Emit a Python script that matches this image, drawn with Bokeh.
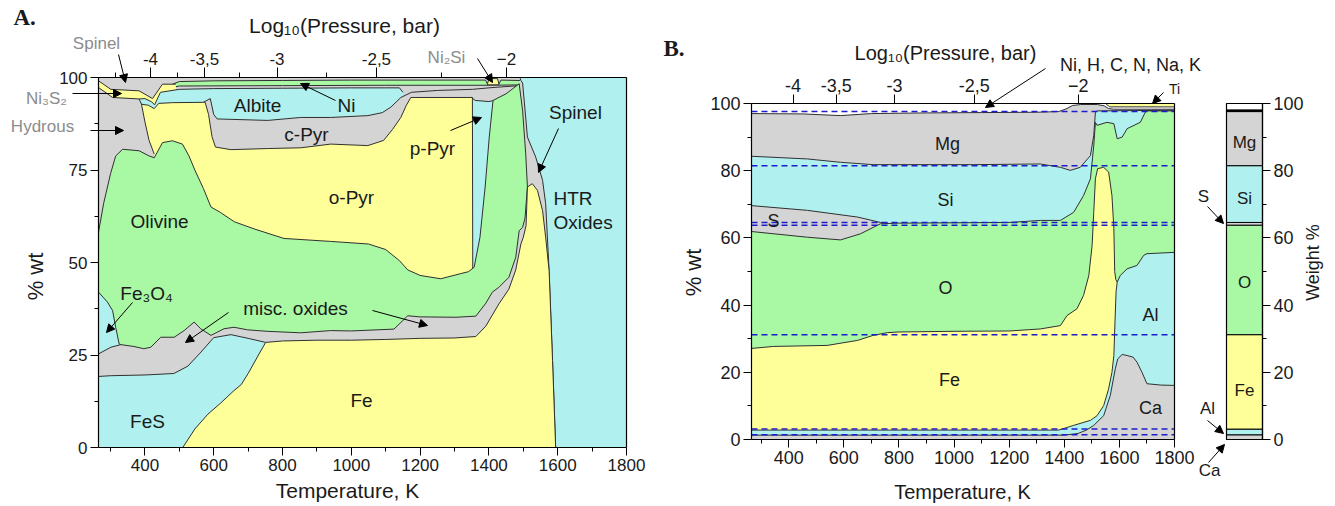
import math
from bokeh.plotting import figure
from bokeh.models import (Range1d, LinearAxis, FixedTicker, Label, Arrow, NormalHead)
from bokeh.layouts import row
from bokeh.embed import file_html
from bokeh.resources import INLINE

# ---------------- colours ----------------
YEL = "#FFFF99"
CYA = "#B0F0EE"
GRN = "#A8F8A4"
GRY = "#D4D4D4"
EDGE = "#303030"
FONT = "Liberation Sans"

# ---------------- Panel A data (cumulative tops, % wt) ----------------
htr_T = [1487, 1800]
htr_top = [100, 100]
spinel_T = [265, 1490, 1493, 1498, 1512, 1536, 1556, 1565, 1575, 1585, 1594]
spinel_top = [100, 100, 99.2, 98.5, 83.9, 78.5, 72.2, 65.9, 47.8, 23.5, 0]
ni2si_T = [1395, 1400, 1425, 1430]
ni2si_top = [98.0, 99.7, 99.7, 98.0]
topgrn_T = [480, 500, 600, 800, 1000, 1200, 1390, 1397, 1428, 1435, 1490]
topgrn_top = [98.2, 98.9, 99.1, 99.2, 99.3, 99.3, 99.3, 98.0, 98.0, 99.3, 99.2]
ni_T = [440, 500, 800, 1100, 1400, 1488]
ni_top = [96.5, 97.7, 97.8, 97.9, 97.9, 98.0]
ni3s2_T = [265, 301, 383, 422, 451, 490]
ni3s2_top = [99.1, 96.8, 96.4, 94.3, 98.2, 98.2]
albite_T = [383, 400, 420, 428, 445, 500, 600, 800, 1000, 1100, 1140, 1150]
albite_top = [94.2, 94.3, 93.4, 92.6, 96.0, 96.8, 97.0, 97.1, 97.2, 97.2, 97.2, 96.0]
cpyr_T = [570, 590, 600, 610, 757, 853, 940, 1048, 1090, 1115, 1144, 1175, 1250, 1352, 1412, 1488]
cpyr_top = [93.3, 94.3, 90.0, 88.8, 88.4, 89.2, 89.2, 89.7, 90.5, 92.0, 94.6, 96.0, 96.5, 96.8, 97.3, 97.8]
ppyr_T = [1350, 1360, 1400, 1415]
ppyr_top = [94.6, 93.8, 93.5, 93.8]
opyr_T = [388, 410, 427, 440, 480, 575, 585, 595, 605, 650, 757, 853, 940, 1048, 1094, 1120,
          1144, 1160, 1173, 1352, 1353]
opyr_top = [92.8, 92.5, 91.6, 93.0, 93.2, 93.3, 90.0, 84.0, 81.2, 80.5, 80.8, 81.0, 82.0, 81.6,
            83.0, 86.0, 89.2, 92.5, 94.6, 94.6, 48.5]
hydrous_T = [265, 306, 383, 390, 400, 412, 427]
hydrous_top = [97.3, 94.6, 94.2, 92.8, 88.0, 83.0, 79.3]
olivine_T = [265, 280, 300, 315, 335, 383, 412, 427, 451, 480, 509, 528, 545, 570, 592, 620, 660,
             720, 804, 940, 1050, 1100, 1140, 1164, 1200, 1260, 1318, 1340, 1357, 1374, 1389,
             1401, 1412, 1450, 1488, 1498, 1507, 1512]
olivine_top = [58.2, 66.0, 74.0, 78.8, 80.6, 80.2, 78.8, 78.3, 82.4, 82.9, 82.0, 78.8, 75.0, 70.0,
               65.0, 63.5, 61.0, 59.0, 56.5, 55.7, 55.0, 53.5, 50.5, 48.0, 46.5, 45.6, 47.0, 47.5,
               48.7, 56.8, 70.4, 83.9, 93.8, 95.6, 98.3, 91.0, 79.4, 70.4]
fe3o4_T = [265, 291, 306, 315, 325, 330]
fe3o4_top = [42.0, 39.3, 37.0, 32.5, 28.0, 27.8]
misc_T = [265, 301, 330, 368, 397, 417, 446, 485, 514, 543, 562, 592, 630, 659, 698, 756, 853,
          940, 1000, 1124, 1164, 1200, 1304, 1362, 1391, 1410, 1429, 1458, 1478, 1488, 1498,
          1505, 1512]
misc_top = [25.3, 27.1, 27.8, 27.3, 26.7, 27.1, 29.8, 29.8, 31.6, 33.9, 32.1, 30.3, 32.1, 32.5,
            31.8, 31.4, 31.0, 31.6, 31.5, 32.0, 35.6, 35.3, 35.2, 35.5, 39.0, 42.0, 43.3, 46.0,
            51.4, 58.6, 59.5, 62.0, 70.4]
fes_T = [265, 300, 400, 484, 525, 563, 600, 650, 700, 751]
fes_top = [19.2, 19.4, 19.6, 20.0, 22.0, 25.8, 29.7, 30.5, 29.5, 28.4]
feA_T = [510, 545, 583, 620, 659, 680, 700, 730, 751, 800, 900, 1000, 1100, 1200, 1300, 1362,
         1391, 1410, 1429, 1458, 1478, 1493, 1500, 1508, 1512, 1526, 1541, 1556, 1565, 1575,
         1585, 1594]
feA_top = [0, 5, 9, 12, 15.4, 17, 20, 25, 28.4, 28.8, 29.0, 29.0, 29.2, 29.5, 29.6, 30.0, 32.8,
           35.8, 38.8, 42.8, 48.0, 55.0, 56.8, 60.0, 70.4, 71.3, 69.5, 64.0, 56.8, 47.8, 23.5, 0]

# ---------------- Panel B data (cumulative tops, % wt) ----------------
ti_T = [1550, 1800]
ti_top = [100, 100]
oth_T = [265, 1550, 1565, 1800]
oth_top = [100, 100, 99.0, 99.0]
mg_T = [265, 450, 588, 700, 900, 1100, 1300, 1380, 1410, 1430, 1460, 1520, 1545, 1560, 1580, 1800]
mg_top = [97.0, 96.9, 96.4, 97.0, 97.2, 97.3, 97.4, 97.6, 98.5, 99.4, 99.7, 99.7, 99.3, 98.5, 98.3, 98.3]
si_T = [265, 468, 588, 707, 1070, 1313, 1386, 1422, 1458, 1495, 1507, 1513, 1519, 1800]
si_top = [84.3, 83.5, 82.5, 81.8, 81.8, 82.0, 81.0, 80.1, 81.0, 84.5, 90.5, 97.4, 97.8, 98.0]
s_T = [265, 468, 650, 733, 760]
s_top = [69.6, 68.2, 66.2, 64.6, 64.4]
o_T = [265, 468, 588, 660, 733, 800, 1000, 1200, 1313, 1386, 1434, 1470, 1495, 1507, 1513, 1519,
       1555, 1580, 1592, 1610, 1628, 1676, 1694, 1700, 1800]
o_top = [61.9, 60.2, 59.4, 61.2, 64.2, 64.4, 64.5, 64.6, 65.2, 65.2, 67.6, 72.6, 77.6, 87.5, 94.4,
         93.5, 94.4, 94.0, 89.5, 90.0, 92.5, 94.4, 97.4, 97.8, 97.8]
feB_T = [265, 345, 540, 650, 707, 758, 800, 1000, 1200, 1313, 1386, 1410, 1446, 1470, 1489, 1501,
         1507, 1513, 1521, 1543, 1561, 1573, 1580, 1583, 1587, 1592]
feB_top = [27.1, 27.7, 28.0, 29.5, 31.0, 31.8, 32.0, 32.2, 32.3, 32.9, 33.9, 36.9, 38.9, 42.9, 48.8,
           57.7, 67.6, 77.6, 80.6, 81.0, 79.6, 72.6, 62.7, 50.0, 47.6, 46.8]
al_T = [265, 1380, 1434, 1495, 1519, 1543, 1561, 1573, 1580, 1584, 1588, 1592, 1603, 1628, 1664,
        1688, 1700, 1800]
al_top = [2.8, 2.8, 4.2, 5.7, 7.1, 10.1, 15.1, 20.0, 25.0, 35.0, 44.0, 46.8, 48.8, 50.8, 51.8,
          54.8, 55.3, 55.7]
ca_T = [265, 1400, 1450, 1480, 1507, 1543, 1567, 1585, 1594, 1610, 1628, 1650, 1664, 1682, 1700,
        1750, 1800]
ca_top = [1.3, 1.3, 1.8, 2.8, 4.2, 7.1, 13.1, 21.0, 24.0, 25.3, 25.0, 24.5, 23.0, 20.0, 16.6,
          16.2, 16.1]

# reference (bulk) composition: cumulative tops
bulk_names = ["Ca", "Al", "Fe", "O", "S", "Si", "Mg"]
bulk_cum = [1.4, 3.1, 31.2, 63.8, 64.6, 81.5, 97.6]
bulk_other_top = 98.1

# pressure axis (log10 P, bar) ticks at temperature positions
p_labels = ["-4", "-3,5", "-3", "-2,5", "\u22122"]
p_T = [416, 573, 784, 1073, 1451]
p_minor_T = [314, 495, 675, 928, 1262]

T_ticks = [400, 600, 800, 1000, 1200, 1400, 1600, 1800]
T_minor = [300, 500, 700, 900, 1100, 1300, 1500, 1700]

XR = (265, 1800)
YR = (0, 100)

# ---------------- page layout (pixels of the 1335x506 page) ----------------
OFF = 0            # measured page offset
A_W, BC_W, H = 650, 680, 505


def ax_(px):
    return XR[0] + (px - 98) * (XR[1] - XR[0]) / 528.0


def ay_(py):
    return (447 - py) / 3.7


def bx_(px):
    return XR[0] + (px - 751) * (XR[1] - XR[0]) / 423.0


def by_(py):
    return (439 - py) / 3.36


def style_axis(a, fs, tick=8, minor=4):
    a.axis_line_color = "black"
    a.axis_line_width = 1.2
    a.major_tick_line_color = "black"
    a.minor_tick_line_color = "black"
    a.major_tick_out = tick
    a.major_tick_in = 0
    a.minor_tick_out = minor
    a.minor_tick_in = 0
    a.major_label_text_font = FONT
    a.major_label_text_font_size = fs
    a.major_label_text_color = "#1a1a1a"
    a.major_label_standoff = 3


def add_axis(p, side, loc, bounds, ticks, minor, fs, tick=8, mtick=4, overrides=None):
    kw = {}
    if overrides:
        kw["major_label_overrides"] = overrides
    a = LinearAxis(fixed_location=loc, bounds=bounds,
                   ticker=FixedTicker(ticks=ticks, minor_ticks=minor), **kw)
    style_axis(a, fs, tick, mtick)
    if not ticks:
        a.major_label_text_font_size = "0px"
    p.add_layout(a, side)
    return a


def lab(p, x, y, t, fs="19px", color="#1a1a1a", align="center", angle=0, font=FONT, style="normal"):
    p.add_layout(Label(x=x, y=y, text=t, text_font=font, text_font_size=fs, text_color=color,
                       text_align=align, text_baseline="middle", angle=angle,
                       text_font_style=style))


def arr(p, x0, y0, x1, y1):
    p.add_layout(Arrow(end=NormalHead(size=8, fill_color="black", line_color="black", line_width=1),
                       x_start=x0, y_start=y0, x_end=x1, y_end=y1,
                       line_color="black", line_width=1))


def base_fig(width, xr, yr):
    p = figure(width=width, height=H, x_range=Range1d(*xr), y_range=Range1d(*yr),
               output_backend="svg", toolbar_location=None,
               x_axis_location=None, y_axis_location=None,
               min_border_left=0, min_border_right=0, min_border_top=0, min_border_bottom=0)
    p.xgrid.visible = False
    p.ygrid.visible = False
    p.outline_line_color = None
    p.background_fill_color = "white"
    p.border_fill_color = "white"
    return p


# ================= Panel A =================
pA = base_fig(A_W, (ax_(OFF), ax_(OFF + A_W)), (ay_(OFF + H), ay_(OFF)))

layersA = [
    (htr_T, htr_top, CYA), (spinel_T, spinel_top, GRY), (ni2si_T, ni2si_top, YEL),
    (topgrn_T, topgrn_top, GRN), (ni_T, ni_top, GRY), (ni3s2_T, ni3s2_top, YEL),
    (albite_T, albite_top, CYA), (cpyr_T, cpyr_top, GRY), (ppyr_T, ppyr_top, CYA),
    (opyr_T, opyr_top, YEL), (hydrous_T, hydrous_top, GRY), (olivine_T, olivine_top, GRN),
    (fe3o4_T, fe3o4_top, CYA), (misc_T, misc_top, GRY), (fes_T, fes_top, CYA),
    (feA_T, feA_top, YEL),
]
for T, top, col in layersA:
    pA.varea(x=T, y1=0, y2=top, fill_color=col, fill_alpha=1)
    pA.line(T, top, line_color=EDGE, line_width=1)

add_axis(pA, "below", YR[0], XR, T_ticks, T_minor, "17px")
add_axis(pA, "left", XR[0], YR, [0, 25, 50, 75, 100], [12.5, 37.5, 62.5, 87.5], "17px")
add_axis(pA, "above", YR[1], XR, p_T, p_minor_T, "17px", tick=10, mtick=5,
         overrides=dict(zip(p_T, p_labels)))
add_axis(pA, "right", XR[1], YR, [], [], "1px", tick=0, mtick=0)

lab(pA, ax_(347), ay_(490), "Temperature, K", fs="21px")
lab(pA, ax_(344), ay_(25), "Log\u2081\u2080(Pressure, bar)", fs="21px")
lab(pA, ax_(35), ay_(276), "% wt", fs="22px", angle=math.pi / 2)
lab(pA, ax_(13), ay_(17), "A.", fs="23px", align="left", font="Liberation Serif", style="bold")

lab(pA, ax_(96), ay_(43), "Spinel", fs="17px", color="#8c8c8c")
lab(pA, ax_(46), ay_(98), "Ni\u2083S\u2082", fs="17px", color="#8c8c8c")
lab(pA, ax_(42), ay_(126), "Hydrous", fs="17px", color="#8c8c8c")
lab(pA, ax_(446), ay_(57), "Ni\u2082Si", fs="17px", color="#8c8c8c")
lab(pA, ax_(257), ay_(105), "Albite")
lab(pA, ax_(306), ay_(134), "c-Pyr")
lab(pA, ax_(346), ay_(105), "Ni")
lab(pA, ax_(432), ay_(148), "p-Pyr")
lab(pA, ax_(575), ay_(112), "Spinel")
lab(pA, ax_(553), ay_(198), "HTR", align="left")
lab(pA, ax_(553), ay_(222), "Oxides", align="left")
lab(pA, ax_(351), ay_(197), "o-Pyr")
lab(pA, ax_(159), ay_(221), "Olivine")
lab(pA, ax_(146), ay_(293), "Fe\u2083O\u2084")
lab(pA, ax_(295), ay_(308), "misc. oxides")
lab(pA, ax_(147), ay_(421), "FeS")
lab(pA, ax_(361), ay_(400), "Fe")

arr(pA, ax_(118), ay_(54), ax_(125), ay_(82))
arr(pA, ax_(72), ay_(93), ax_(121), ay_(93))
arr(pA, ax_(90), ay_(130), ax_(123), ay_(130))
arr(pA, ax_(335), ay_(100), ax_(300), ay_(83))
arr(pA, ax_(477), ay_(58), ax_(492), ay_(82))
arr(pA, ax_(450), ay_(130), ax_(481), ay_(117))
arr(pA, ax_(558), ay_(128), ax_(538), ay_(172))
arr(pA, ax_(132), ay_(302), ax_(106), ay_(332))
arr(pA, ax_(228), ay_(312), ax_(185), ay_(342))
arr(pA, ax_(372), ay_(310), ax_(427), ay_(325))

# ================= Panel B + bulk bar =================
X0B = OFF + A_W
pB = base_fig(BC_W, (bx_(X0B), bx_(X0B + BC_W)), (by_(OFF + H), by_(OFF)))

layersB = [
    (ti_T, ti_top, YEL), (oth_T, oth_top, "white"), (mg_T, mg_top, GRY), (si_T, si_top, CYA),
    (s_T, s_top, GRY), (o_T, o_top, GRN), (feB_T, feB_top, YEL), (al_T, al_top, CYA),
    (ca_T, ca_top, GRY),
]
for T, top, col in layersB:
    pB.varea(x=T, y1=0, y2=top, fill_color=col, fill_alpha=1)
    pB.line(T, top, line_color=EDGE, line_width=1)

pB.segment(x0=XR[0], x1=XR[1], y0=bulk_cum, y1=bulk_cum, line_color="#1c1cc8",
           line_width=1.5, line_dash="6 4")

add_axis(pB, "below", YR[0], XR, T_ticks, T_minor, "18px")
add_axis(pB, "left", XR[0], YR, [0, 20, 40, 60, 80, 100], [10, 30, 50, 70, 90], "18px")
add_axis(pB, "above", YR[1], XR, p_T, [], "18px", tick=9,
         overrides=dict(zip(p_T, p_labels)))
add_axis(pB, "right", XR[1], YR, [], [], "1px", tick=0, mtick=0)

# bulk composition bar (same y scale)
BAR_L, BAR_R = bx_(1226), bx_(1262)
bar_colors = [GRY, CYA, YEL, GRN, GRY, CYA, GRY]
bottoms = [0] + bulk_cum[:-1]
pB.quad(left=BAR_L, right=BAR_R, bottom=bottoms, top=bulk_cum, fill_color=bar_colors,
        line_color="black", line_width=1)
pB.quad(left=BAR_L, right=BAR_R, bottom=bulk_cum[-1], top=bulk_other_top, fill_color="black",
        line_color="black")
pB.quad(left=BAR_L, right=BAR_R, bottom=0, top=100, fill_color=None, line_color="black",
        line_width=1.2)
add_axis(pB, "right", BAR_R, YR, [0, 20, 40, 60, 80, 100], [10, 30, 50, 70, 90], "18px")

lab(pB, bx_(962), by_(491), "Temperature, K", fs="20px")
lab(pB, bx_(945), by_(52), "Log\u2081\u2080(Pressure, bar)", fs="20px")
lab(pB, bx_(693), by_(272), "% wt", fs="22px", angle=math.pi / 2)
lab(pB, bx_(663), by_(48), "B.", fs="23px", align="left", font="Liberation Serif", style="bold")

lab(pB, bx_(947), by_(143), "Mg", fs="18px")
lab(pB, bx_(945), by_(199), "Si", fs="18px")
lab(pB, bx_(773), by_(220), "S", fs="18px")
lab(pB, bx_(945), by_(287), "O", fs="18px")
lab(pB, bx_(949), by_(379), "Fe", fs="18px")
lab(pB, bx_(1150), by_(314), "Al", fs="18px")
lab(pB, bx_(1150), by_(407), "Ca", fs="18px")
lab(pB, bx_(1130), by_(64), "Ni, H, C, N, Na, K", fs="18px")
lab(pB, bx_(1174), by_(88), "Ti", fs="14px")
lab(pB, bx_(1203), by_(196), "S", fs="17px")
lab(pB, bx_(1207), by_(408), "Al", fs="17px")
lab(pB, bx_(1209), by_(470), "Ca", fs="17px")
lab(pB, bx_(1244), by_(142), "Mg", fs="17px")
lab(pB, bx_(1244), by_(198), "Si", fs="17px")
lab(pB, bx_(1244), by_(282), "O", fs="17px")
lab(pB, bx_(1244), by_(390), "Fe", fs="17px")
lab(pB, bx_(1312), by_(262), "Weight %", fs="18px", angle=math.pi / 2)

arr(pB, bx_(1045), by_(68), bx_(985), by_(107))
arr(pB, bx_(1163), by_(92), bx_(1152), by_(103))
arr(pB, bx_(1207), by_(206), bx_(1223), by_(223))
arr(pB, bx_(1207), by_(420), bx_(1223), by_(433))
arr(pB, bx_(1208), by_(462), bx_(1224), by_(444))

layout = row(pA, pB)
open("out.html", "w").write(file_html(layout, INLINE))
